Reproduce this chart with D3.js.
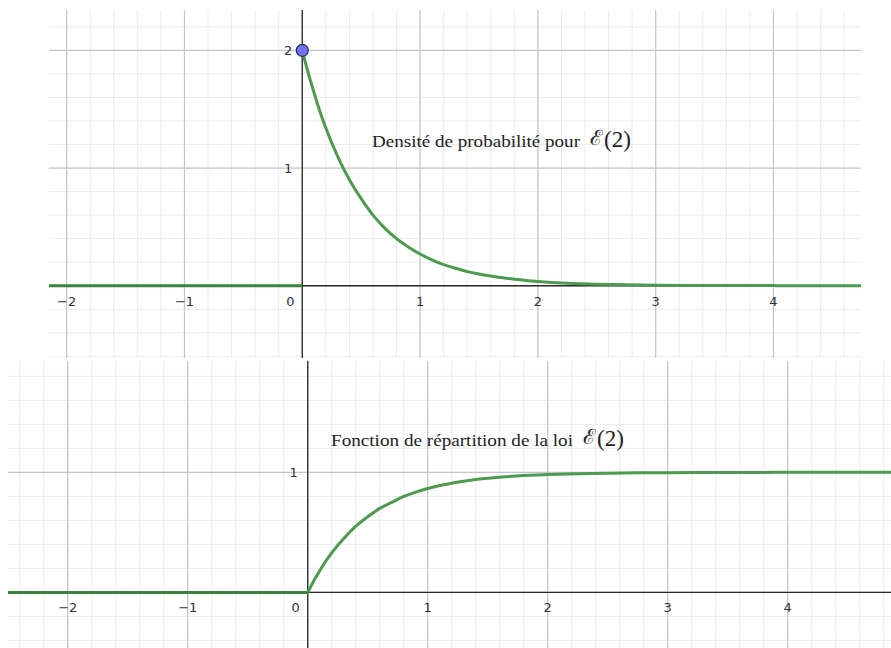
<!DOCTYPE html>
<html>
<head>
<meta charset="utf-8">
<script src="https://cdn.jsdelivr.net/npm/d3@7"></script>
<style>
  html, body { margin: 0; padding: 0; background: #fff; }
  svg { display: block; }
  .tick-label { font-family: "DejaVu Sans", "Noto Sans", sans-serif; font-size: 13px; fill: #333; }
  .caption { font-family: "Liberation Serif", "DejaVu Serif", serif; font-size: 17px; fill: #222; }
  .math { font-family: "Liberation Serif", "DejaVu Serif", serif; font-size: 23px; fill: #222; }
  .script { font-family: "DejaVu Serif", serif; font-size: 21px; font-style: normal; }
</style>
</head>
<body>
<svg id="chart" width="891" height="648"></svg>
<script>
// Exponential law E(2): density and cumulative distribution, sampled values
const densityX = [0, 0.05, 0.1, 0.15, 0.2, 0.3, 0.4, 0.5, 0.6, 0.7, 0.8, 0.9, 1.0, 1.1, 1.2, 1.3, 1.4, 1.5, 1.6, 1.7, 1.8, 1.9, 2.0, 2.25, 2.5, 2.75, 3.0, 3.5, 4.0, 4.75];
const densityY = [2, 1.81, 1.64, 1.48, 1.34, 1.10, 0.90, 0.74, 0.60, 0.49, 0.40, 0.33, 0.27, 0.22, 0.18, 0.149, 0.12, 0.10, 0.082, 0.067, 0.055, 0.045, 0.037, 0.022, 0.013, 0.008, 0.005, 0.002, 0.001, 0];
const cdfX = [0, 0.05, 0.1, 0.15, 0.2, 0.3, 0.4, 0.5, 0.6, 0.7, 0.8, 0.9, 1.0, 1.1, 1.2, 1.3, 1.4, 1.5, 1.6, 1.7, 1.8, 1.9, 2.0, 2.25, 2.5, 2.75, 3.0, 3.5, 4.0, 4.9];
const cdfY = [0, 0.095, 0.18, 0.26, 0.33, 0.45, 0.55, 0.63, 0.70, 0.75, 0.80, 0.835, 0.865, 0.89, 0.91, 0.926, 0.94, 0.95, 0.959, 0.967, 0.973, 0.978, 0.982, 0.989, 0.993, 0.996, 0.9975, 0.999, 1, 1];
const leftZeroX = [-2.6, 0];
const leftZeroY = [0, 0];
const startPoint = [0, 2];

const xTicks = [-2, -1, 0, 1, 2, 3, 4];
const densityYTicks = [1, 2];
const cdfYTicks = [1];

const densityCaption = "Densité de probabilité pour";
const cdfCaption = "Fonction de répartition de la loi";
const lawSymbol = "ℰ";
const lawParam = "(2)";

const svg = d3.select("#chart");
const fmt = v => String(v).replace("-", "\u2212");

function panel(opts) {
  const g = svg.append("g");
  const clipId = "clip-" + opts.id;
  g.append("clipPath").attr("id", clipId)
    .append("rect")
    .attr("x", opts.left).attr("y", opts.top)
    .attr("width", opts.right - opts.left).attr("height", opts.bottom - opts.top);

  const x = d3.scaleLinear().domain(opts.xDomain).range([opts.left, opts.right]);
  const y = d3.scaleLinear().domain(opts.yDomain).range([opts.bottom, opts.top]);

  const plot = g.append("g").attr("clip-path", `url(#${clipId})`);

  plot.append("rect")
    .attr("x", opts.left).attr("y", opts.top)
    .attr("width", opts.right - opts.left).attr("height", opts.bottom - opts.top)
    .attr("fill", "#fff");

  // minor grid every 0.2
  const minorX = d3.range(Math.ceil(opts.xDomain[0] * 5), Math.floor(opts.xDomain[1] * 5) + 1).map(k => k / 5);
  const minorY = d3.range(Math.ceil(opts.yDomain[0] * 5), Math.floor(opts.yDomain[1] * 5) + 1).map(k => k / 5);
  plot.append("g").selectAll("line").data(minorX).join("line")
    .attr("x1", d => x(d)).attr("x2", d => x(d))
    .attr("y1", opts.top).attr("y2", opts.bottom)
    .attr("stroke", "#ebebeb").attr("stroke-width", 1);
  plot.append("g").selectAll("line").data(minorY).join("line")
    .attr("y1", d => y(d)).attr("y2", d => y(d))
    .attr("x1", opts.left).attr("x2", opts.right)
    .attr("stroke", "#ebebeb").attr("stroke-width", 1);

  // major grid every unit
  const majorX = d3.range(Math.ceil(opts.xDomain[0]), Math.floor(opts.xDomain[1]) + 1);
  const majorY = d3.range(Math.ceil(opts.yDomain[0]), Math.floor(opts.yDomain[1]) + 1);
  plot.append("g").selectAll("line").data(majorX).join("line")
    .attr("x1", d => x(d)).attr("x2", d => x(d))
    .attr("y1", opts.top).attr("y2", opts.bottom)
    .attr("stroke", "#c6c6c6").attr("stroke-width", 1.2);
  plot.append("g").selectAll("line").data(majorY).join("line")
    .attr("y1", d => y(d)).attr("y2", d => y(d))
    .attr("x1", opts.left).attr("x2", opts.right)
    .attr("stroke", "#c6c6c6").attr("stroke-width", 1.2);

  // axes
  plot.append("line")
    .attr("x1", opts.left).attr("x2", opts.right)
    .attr("y1", y(0)).attr("y2", y(0))
    .attr("stroke", "#2a2a2a").attr("stroke-width", 1.3);
  plot.append("line")
    .attr("x1", x(0)).attr("x2", x(0))
    .attr("y1", opts.top).attr("y2", opts.bottom)
    .attr("stroke", "#2a2a2a").attr("stroke-width", 1.3);

  // tick labels
  g.append("g").selectAll("text").data(xTicks).join("text")
    .attr("class", "tick-label")
    .attr("x", d => d === 0 ? x(0) - 12 : x(d))
    .attr("y", y(0) + 20)
    .attr("text-anchor", "middle")
    .text(fmt);
  g.append("g").selectAll("text").data(opts.yTicks).join("text")
    .attr("class", "tick-label")
    .attr("x", x(0) - 10)
    .attr("y", d => y(d) + 5)
    .attr("text-anchor", "end")
    .text(fmt);

  // curves
  const line = d3.line().x(d => x(d[0])).y(d => y(d[1])).curve(d3.curveMonotoneX);
  opts.series.forEach(s => {
    plot.append("path")
      .datum(s.xs.map((v, i) => [v, s.ys[i]]))
      .attr("d", line)
      .attr("fill", "none")
      .attr("stroke", s.color)
      .attr("stroke-width", 3)
      .attr("stroke-linejoin", "round")
      .attr("stroke-linecap", "butt");
  });

  // caption
  g.append("text").attr("class", "caption")
    .attr("x", opts.caption.x).attr("y", opts.caption.y)
    .attr("textLength", opts.caption.len).attr("lengthAdjust", "spacingAndGlyphs")
    .text(opts.caption.text);
  const m = g.append("text").attr("class", "math")
    .attr("x", opts.caption.mx).attr("y", opts.caption.my);
  m.append("tspan").attr("class", "script").attr("dy", -2).text(lawSymbol);
  m.append("tspan").attr("dx", 1).attr("dy", 2).text(lawParam);

  return { g, x, y };
}

const green = "#4e9a4e";
const greenDark = "#3a843a";

const densityPanel = panel({
  id: "density",
  left: 49, right: 861, top: 10, bottom: 358,
  xDomain: [-2.15, 4.743], yDomain: [-0.614, 2.343],
  yTicks: densityYTicks,
  series: [
    { xs: leftZeroX, ys: leftZeroY, color: greenDark },
    { xs: densityX, ys: densityY, color: green }
  ],
  caption: { text: densityCaption, x: 372, y: 147, len: 208, mx: 590, my: 147 }
});

densityPanel.g.append("circle")
  .attr("cx", densityPanel.x(startPoint[0])).attr("cy", densityPanel.y(startPoint[1]))
  .attr("r", 6)
  .attr("fill", "#7373ee")
  .attr("stroke", "#2b2b55").attr("stroke-width", 1.2);

panel({
  id: "cdf",
  left: 8, right: 891, top: 360.7, bottom: 648,
  xDomain: [-2.498, 4.861], yDomain: [-0.463, 1.93],
  yTicks: cdfYTicks,
  series: [
    { xs: leftZeroX, ys: leftZeroY, color: greenDark },
    { xs: cdfX, ys: cdfY, color: green }
  ],
  caption: { text: cdfCaption, x: 331, y: 446, len: 242, mx: 583, my: 446 }
});
</script>
</body>
</html>
